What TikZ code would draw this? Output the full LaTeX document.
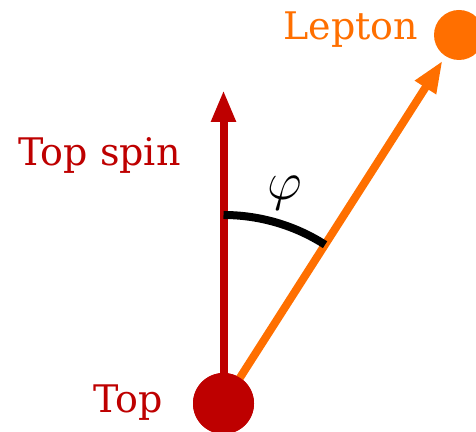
\documentclass[tikz,border=0pt]{standalone}
\usepackage{fix-cm}
\usepackage{fontspec}
\setmainfont{DejaVu Serif}
\usepackage{tikz}
\usetikzlibrary{arrows.meta,positioning}
\definecolor{topred}{RGB}{190,0,0}
\definecolor{leporange}{RGB}{255,111,0}
\tikzset{
    particle/.style={circle, inner sep=0pt},
    lbl/.style={anchor=base west, inner sep=0pt, font=\fontsize{19}{23}\selectfont},
    vec/.style={-{Triangle[width=11.5pt, length=16pt]}, line width=4pt}
}
\begin{document}
\begin{tikzpicture}[x=0.5pt, y=0.5pt]
\useasboundingbox (0,0) rectangle (476,432);

\node[particle, fill=topred, minimum size=30.5pt] (top) at (223.5,28.5) {};
\node[particle, fill=leporange, minimum size=25pt] (lep) at (459,397) {};
\coordinate (spintip) at (223.5,342);

\node[lbl, text=leporange] (leplbl) at (283,392) {Lepton};
\node[lbl, text=topred] (spinlbl) at (18,266) {Top spin};
\node[lbl, text=topred] (toplbl) at (93,19) {Top};

\draw[vec, draw=topred, fill=topred] (top.center) -- (spintip);
\draw[vec, draw=leporange, fill=leporange, shorten >=2.5pt] (top.center) -- (lep);
\draw[line width=4pt] ([shift={(90:188.5)}]top.center) arc[start angle=90, end angle=57.4, radius=188.5];
\node[font=\fontsize{27}{32}\selectfont] (phi) at (285,239) {$\varphi$};

% circles on top of the shafts
\node[particle, fill=topred, minimum size=30.5pt] at (top) {};
\end{tikzpicture}
\end{document}
